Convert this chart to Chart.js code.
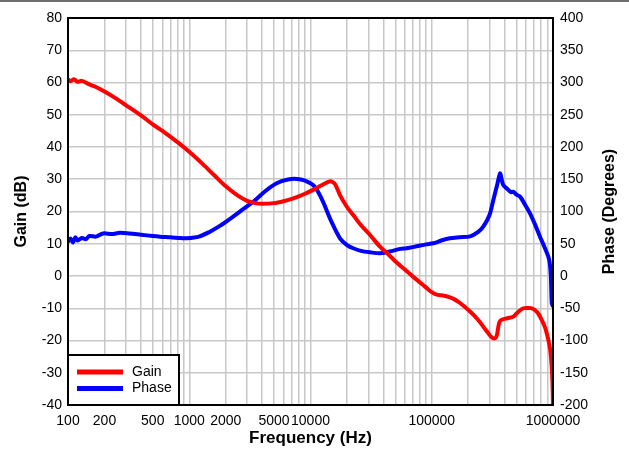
<!DOCTYPE html>
<html>
<head>
<meta charset="utf-8">
<script src="https://cdn.jsdelivr.net/npm/chart.js@4"></script>
<style>
  html, body { margin: 0; padding: 0; background: #fff; }
  #wrap { width: 629px; height: 453px; }
</style>
</head>
<body>
<div id="wrap"><canvas id="chart-canvas" width="629" height="453"></canvas></div>
<script>
// Gain trace (Hz, dB)
const gainFreq = [100, 105, 112, 120, 130, 150, 170, 200, 250, 300, 400, 500, 600, 800, 1000, 1300, 1600, 2000, 2500, 3000, 3500, 4000, 5000, 6000, 7000, 8000, 9000, 10500, 12000, 13000, 14000, 15000, 16000, 17500, 20000, 22500, 26000, 31000, 37400, 45000, 50000, 60000, 70000, 80000, 90000, 100000, 110000, 120000, 130000, 150000, 170000, 207000, 240000, 280000, 310000, 333000, 345000, 360000, 377000, 420000, 471000, 520000, 569000, 620000, 667000, 740000, 807000, 870000, 944000, 975000, 990000, 1000000];
const gainDb = [61, 60.4, 61, 60.2, 60.5, 59.4, 58.6, 57.2, 55, 53, 49.8, 47, 45, 41.5, 38.5, 34.6, 31.3, 27.8, 25, 23.3, 22.6, 22.4, 22.6, 23.2, 23.9, 24.7, 25.5, 26.7, 27.9, 28.6, 29.2, 29.3, 28.4, 25.1, 21.4, 18.9, 15.8, 12.7, 9.1, 6.3, 4.6, 2, -0.2, -2, -3.6, -5, -5.8, -6, -6.2, -7, -8.3, -11, -13.5, -16.8, -18.9, -19.3, -18.2, -14.5, -13.6, -13.1, -12.6, -11, -10, -9.9, -10, -11.2, -13.6, -16.5, -22.4, -28, -33, -40];

// Phase trace (Hz, degrees)
const phaseFreq = [100, 105, 110, 115, 120, 130, 140, 150, 170, 195, 230, 268, 320, 400, 500, 574, 700, 850, 952, 1200, 1480, 1800, 2300, 2800, 3370, 4200, 5260, 6500, 7700, 9000, 10500, 11500, 12700, 14900, 17500, 20000, 22500, 26000, 31000, 37400, 45000, 55000, 62000, 75000, 90000, 103000, 120000, 141000, 170000, 207000, 240000, 266000, 300000, 322000, 345000, 366000, 375000, 389000, 420000, 450000, 471000, 500000, 535000, 590000, 646000, 710000, 781000, 850000, 915000, 940000, 960000, 976000, 990000, 1000000];
const phaseDeg = [53, 58, 52, 60, 55, 59, 57, 62, 61, 66, 65, 67, 66, 64, 62, 61, 60, 58.8, 58.4, 61, 68.7, 78, 92, 104, 115, 131, 143.7, 149.5, 150.5, 148, 141, 131, 115, 84, 58.5, 48, 43, 39, 36.7, 35.2, 38, 42, 43, 46, 49, 50.7, 55, 58.4, 60, 61.5, 68, 76.5, 95, 118, 140, 159, 152, 141, 135, 130, 130.7, 126, 123, 110, 97, 80, 61, 45, 30, 20, 0, -42, -45, -48];

const xTickLabels = [100, 200, 500, 1000, 2000, 5000, 10000, 100000, 1000000];

const FONT = 'Liberation Sans, Arial, sans-serif';

// every 1..9 x decade, for the log grid
function logGridValues(min, max) {
  const vals = [];
  for (let d = min; d < max; d *= 10) {
    for (let m = 1; m < 10; m++) vals.push(d * m);
  }
  vals.push(max);
  return vals;
}

// both y titles read bottom-to-top, so draw them here
function verticalTitle(ctx, text, x, y) {
  ctx.save();
  ctx.translate(x, y);
  ctx.rotate(-Math.PI / 2);
  ctx.font = 'bold 16px ' + FONT;
  ctx.fillStyle = '#000';
  ctx.textAlign = 'center';
  ctx.textBaseline = 'middle';
  ctx.fillText(text, 0, 0);
  ctx.restore();
}

const framePlugin = {
  id: 'frame',
  beforeDraw(chart) {
    const ctx = chart.ctx;
    ctx.save();
    ctx.fillStyle = '#6e6e6e';
    ctx.fillRect(0, 0, chart.width, 2);
    ctx.restore();
  },
  afterDatasetsDraw(chart) {
    const { ctx, chartArea: a } = chart;
    ctx.save();
    ctx.strokeStyle = '#000';
    ctx.lineWidth = 2;
    ctx.strokeRect(a.left, a.top, a.right - a.left, a.bottom - a.top);

    // legend box in the lower left corner of the plot
    const lx = a.left, ly = a.bottom - 50, lw = 111, lh = 50;
    ctx.fillStyle = '#fff';
    ctx.fillRect(lx, ly, lw, lh);
    ctx.strokeRect(lx, ly, lw, lh);
    const items = chart.data.datasets;
    ctx.font = '14px ' + FONT;
    ctx.textBaseline = 'middle';
    items.forEach((ds, i) => {
      const y = ly + 17 + i * 16.5;
      ctx.strokeStyle = ds.borderColor;
      ctx.lineWidth = 5;
      ctx.beginPath();
      ctx.moveTo(lx + 9, y);
      ctx.lineTo(lx + 55, y);
      ctx.stroke();
      ctx.fillStyle = '#000';
      ctx.fillText(ds.label, lx + 64, y);
    });
    ctx.restore();

    const midY = (a.top + a.bottom) / 2;
    verticalTitle(ctx, 'Gain (dB)', 22, midY);
    verticalTitle(ctx, 'Phase (Degrees)', 610, midY);
  }
};

new Chart(
  document.getElementById('chart-canvas'),
  {
    type: 'line',
    plugins: [framePlugin],
    data: {
      datasets: [
        {
          label: 'Gain',
          data: gainFreq.map((f, i) => ({ x: f, y: gainDb[i] })),
          yAxisID: 'y',
          borderColor: '#ff0000',
          backgroundColor: '#ff0000',
          borderWidth: 4,
          pointRadius: 0,
          tension: 0.3,
        },
        {
          label: 'Phase',
          data: phaseFreq.map((f, i) => ({ x: f, y: phaseDeg[i] })),
          yAxisID: 'y1',
          borderColor: '#0000ff',
          backgroundColor: '#0000ff',
          borderWidth: 4,
          pointRadius: 0,
          tension: 0.3,
        }
      ]
    },
    options: {
      responsive: false,
      animation: false,
      layout: { padding: { top: 18, left: 0, right: 0, bottom: 0 } },
      plugins: {
        legend: { display: false },
        tooltip: { enabled: false },
      },
      scales: {
        x: {
          type: 'logarithmic',
          min: 100,
          max: 1000000,
          afterBuildTicks(axis) {
            axis.ticks = logGridValues(100, 1000000).map(v => ({ value: v }));
          },
          afterFit(axis) { axis.height = 48; },
          ticks: {
            autoSkip: false,
            maxRotation: 0,
            padding: 8,
            color: '#000',
            font: { family: FONT, size: 14 },
            callback(val) {
              return xTickLabels.includes(val) ? String(val) : '';
            }
          },
          grid: { color: '#c8c8c8', lineWidth: 1.5, drawTicks: false },
          border: { display: false },
          title: {
            display: true,
            text: 'Frequency (Hz)',
            color: '#000',
            font: { family: FONT, size: 17, weight: 'bold' },
            padding: { top: 3 }
          }
        },
        y: {
          position: 'left',
          min: -40,
          max: 80,
          afterFit(axis) { axis.width = 68; },
          ticks: {
            stepSize: 10,
            padding: 6,
            color: '#000',
            font: { family: FONT, size: 14 },
          },
          grid: { color: '#c8c8c8', lineWidth: 1.5, drawTicks: false },
          border: { display: false },
        },
        y1: {
          position: 'right',
          min: -200,
          max: 400,
          afterFit(axis) { axis.width = 76; },
          ticks: {
            stepSize: 50,
            padding: 7,
            color: '#000',
            font: { family: FONT, size: 14 },
          },
          grid: { display: false, drawTicks: false },
          border: { display: false },
        }
      }
    }
  }
);
</script>
</body>
</html>
